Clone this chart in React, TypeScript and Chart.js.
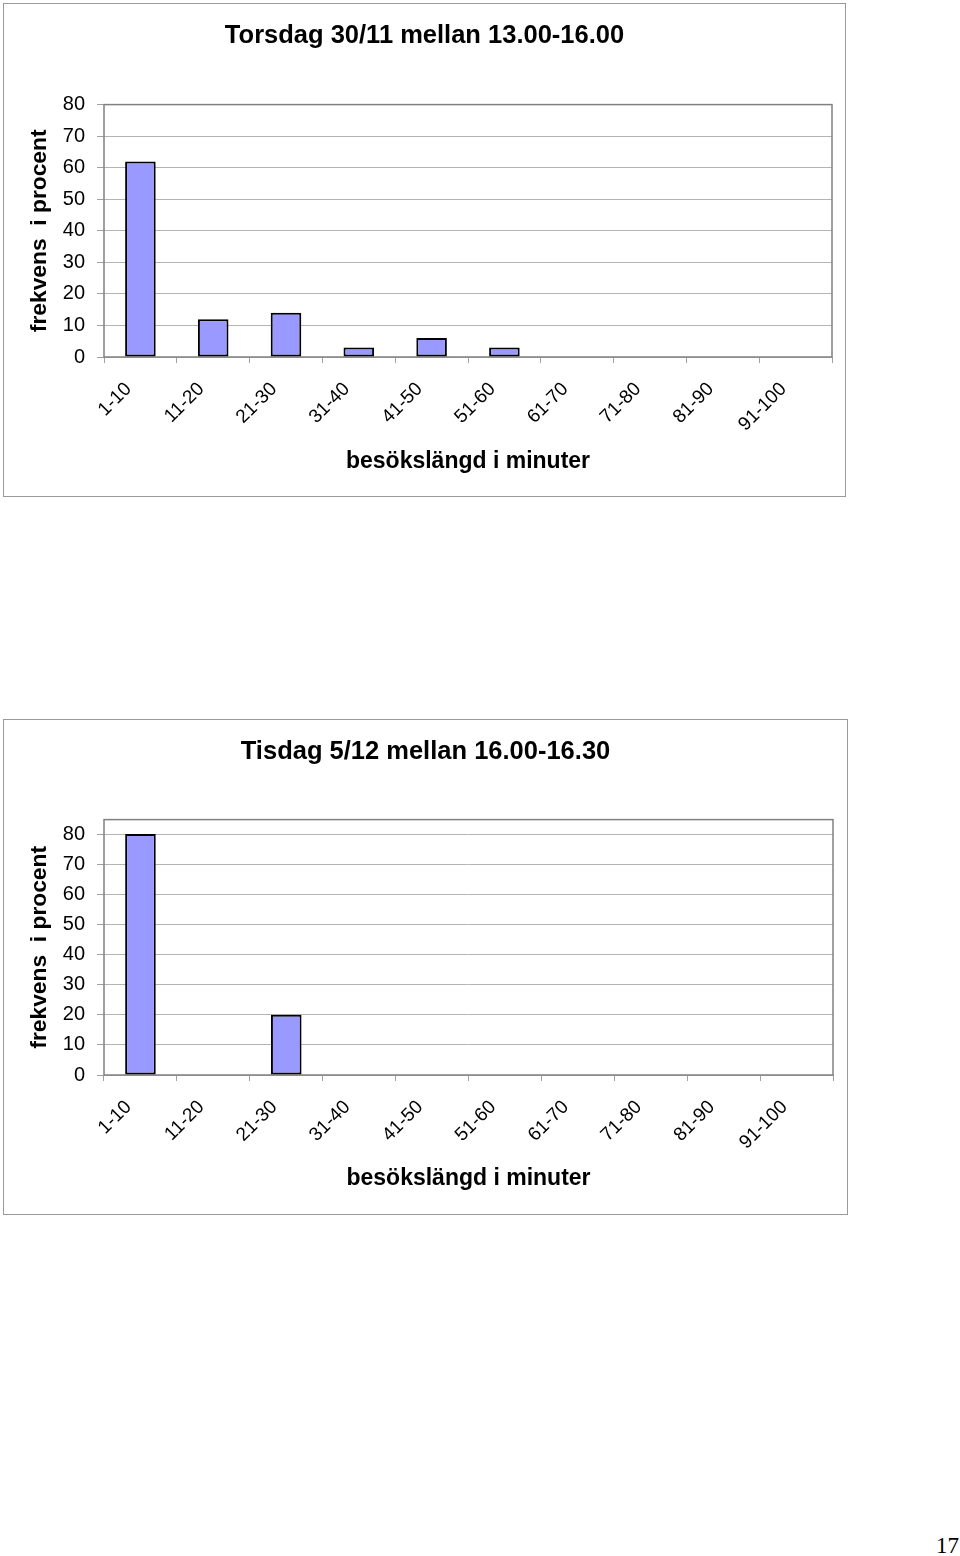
import React, { useEffect, useRef } from 'react';
import Chart from 'chart.js/auto';

const categories = ['1-10', '11-20', '21-30', '31-40', '41-50', '51-60', '61-70', '71-80', '81-90', '91-100'];
const torsdagValues = [62, 12, 14, 3, 6, 3, 0, 0, 0, 0];
const tisdagValues = [80, 0, 20, 0, 0, 0, 0, 0, 0, 0];
const yTicks = [0, 10, 20, 30, 40, 50, 60, 70, 80];
const torsdagTitle = 'Torsdag 30/11 mellan 13.00-16.00';
const tisdagTitle = 'Tisdag 5/12 mellan 16.00-16.30';
const yAxisTitle = 'frekvens  i procent';
const xAxisTitle = 'besökslängd i minuter';

const FONT = '"Liberation Sans", Arial, Helvetica, sans-serif';

// grey box round the plot area, like the Excel chart
const plotFrame = {
  id: 'plotFrame',
  beforeDatasetsDraw(chart: Chart) {
    const { ctx, chartArea } = chart;
    ctx.save();
    ctx.strokeStyle = '#808080';
    ctx.lineWidth = 1.5;
    ctx.strokeRect(chartArea.left, chartArea.top, chartArea.right - chartArea.left, chartArea.bottom - chartArea.top);
    ctx.restore();
  },
};

interface BarFrameProps {
  title: string;
  values: number[];
  yMax: number;
  box: { left: number; top: number; width: number; height: number };
  titleBottom: number;
  xTitleBottom: number;
  xHeight: number;
  rightPad: number;
}

const BarFrame: React.FC<BarFrameProps> = ({ title, values, yMax, box, titleBottom, xTitleBottom, xHeight, rightPad }) => {
  const canvasRef = useRef<HTMLCanvasElement>(null);

  useEffect(() => {
    if (!canvasRef.current) return;
    const chart = new Chart(canvasRef.current, {
      type: 'bar',
      data: {
        labels: categories,
        datasets: [
          {
            data: values,
            backgroundColor: '#9999FF',
            borderColor: '#000000',
            borderWidth: 2,
            borderSkipped: false,
            barPercentage: 0.42,
            categoryPercentage: 1,
          },
        ],
      },
      options: {
        animation: false,
        responsive: true,
        maintainAspectRatio: false,
        layout: { padding: 0 },
        plugins: {
          legend: { display: false },
          tooltip: { enabled: false },
          title: {
            display: true,
            text: title,
            color: '#000',
            font: { family: FONT, size: 25.5, weight: 'bold' },
            padding: { top: 17, bottom: titleBottom },
          },
        },
        scales: {
          x: {
            grid: {
              display: true,
              offset: true,
              drawOnChartArea: false,
              drawTicks: true,
              tickLength: 6,
              tickColor: '#a0a0a0',
            },
            border: { display: false },
            ticks: {
              color: '#000',
              font: { family: FONT, size: 19 },
              minRotation: 45,
              maxRotation: 45,
              autoSkip: false,
              padding: 15,
              labelOffset: -12,
            },
            title: {
              display: true,
              text: xAxisTitle,
              color: '#000',
              font: { family: FONT, size: 23, weight: 'bold' },
              padding: { top: 0, bottom: xTitleBottom },
            },
            afterFit(scale: any) {
              scale.height = xHeight;
            },
          },
          y: {
            min: 0,
            max: yMax,
            grid: {
              color: '#b4b4b4',
              lineWidth: 1,
              drawTicks: true,
              tickLength: 7,
              tickColor: '#a0a0a0',
            },
            border: { display: false },
            ticks: {
              color: '#000',
              font: { family: FONT, size: 20 },
              padding: 12,
            },
            afterBuildTicks(scale: any) {
              scale.ticks = yTicks.map((v) => ({ value: v }));
            },
            title: {
              display: true,
              text: yAxisTitle,
              color: '#000',
              font: { family: FONT, size: 22.8, weight: 'bold' },
              padding: { top: 22, bottom: 0 },
            },
            afterFit(scale: any) {
              scale.width = 100;
            },
          },
          // empty strip on the right so the plot area ends where Excel put it
          spacer: {
            type: 'linear',
            position: 'right',
            display: true,
            grid: { display: false },
            border: { display: false },
            ticks: { display: false },
            afterFit(scale: any) {
              scale.width = rightPad;
            },
          },
        },
      },
      plugins: [plotFrame],
    });
    return () => chart.destroy();
  }, [title, values, yMax, titleBottom, xTitleBottom, xHeight, rightPad]);

  return (
    <div
      style={{
        position: 'absolute',
        left: box.left,
        top: box.top,
        width: box.width,
        height: box.height,
        border: '1px solid #9a9a9a',
        background: '#fff',
      }}
    >
      <canvas ref={canvasRef} />
    </div>
  );
};

const App: React.FC = () => {
  return (
    <div style={{ position: 'absolute', left: 0, top: 0, width: 960, height: 1556, overflow: 'hidden', background: '#fff' }}>
      <BarFrame
        title={torsdagTitle}
        values={torsdagValues}
        yMax={80}
        box={{ left: 3, top: 3, width: 841, height: 492 }}
        titleBottom={53}
        xTitleBottom={21}
        xHeight={139}
        rightPad={13}
      />
      <BarFrame
        title={tisdagTitle}
        values={tisdagValues}
        yMax={84.8}
        box={{ left: 3, top: 719, width: 843, height: 494 }}
        titleBottom={52}
        xTitleBottom={22}
        xHeight={139}
        rightPad={14}
      />
      <div
        style={{
          position: 'absolute',
          left: 936,
          top: 1534,
          fontFamily: '"Liberation Serif", "Times New Roman", serif',
          fontSize: 23,
          lineHeight: '23px',
          color: '#000',
        }}
      >
        17
      </div>
    </div>
  );
};

export default App;
